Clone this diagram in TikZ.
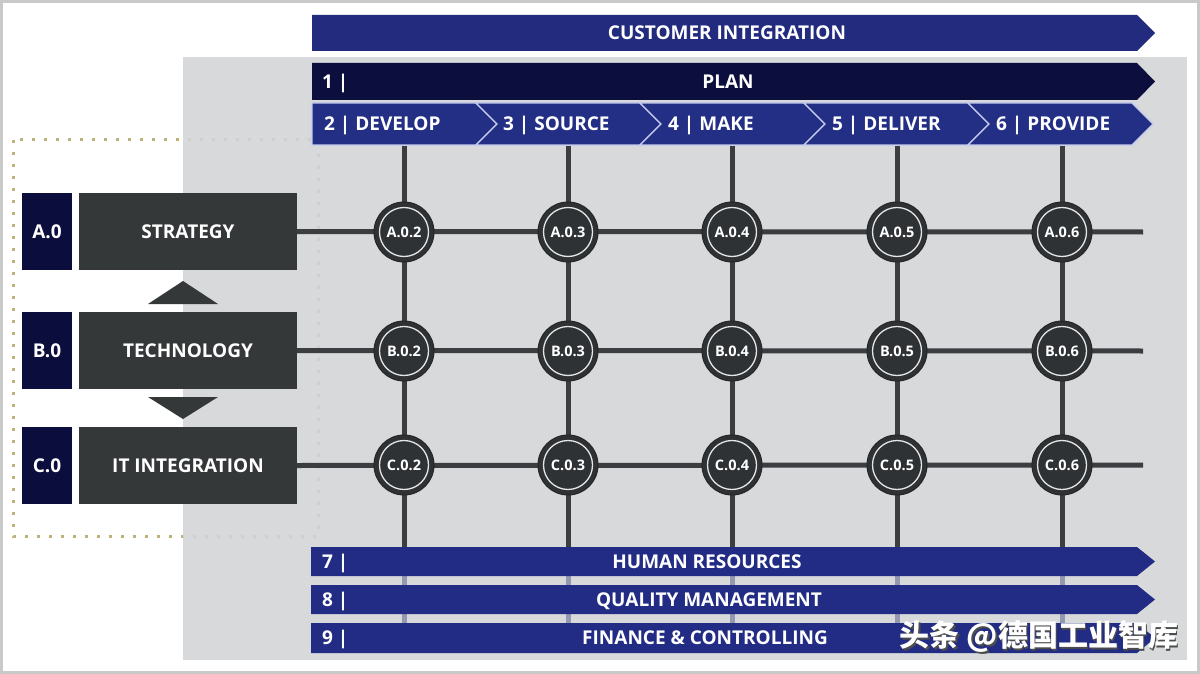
\documentclass[tikz,border=0pt]{standalone}
\usepackage{fontspec}
\setmainfont{Open Sans}
\newfontfamily\cjk{Noto Sans CJK SC}
\definecolor{custblue}{HTML}{222B7E}
\definecolor{plannavy}{HTML}{0C0E3E}
\definecolor{chevblue}{HTML}{232F84}
\definecolor{barblue}{HTML}{222C85}
\definecolor{leftnavy}{HTML}{0B0D3C}
\definecolor{boxgray}{HTML}{353839}
\definecolor{gridgray}{HTML}{3B3D40}
\definecolor{hubfill}{HTML}{2F3234}
\definecolor{panelgray}{HTML}{D2D4D7}
\definecolor{sepline}{HTML}{C4CBEE}
\definecolor{dotcol}{HTML}{BDB27A}
\definecolor{framegray}{HTML}{C9C9C9}
\begin{document}
\begin{tikzpicture}[x=1pt,y=-1pt,
  txt/.style={text=white, font=\bfseries\fontsize{19}{22}\selectfont, inner sep=0pt, text height=13.5pt, text depth=0pt},
  leftbox/.style={txt, fill=leftnavy, minimum width=50pt, minimum height=77pt},
  graybox/.style={txt, fill=boxgray, minimum width=218pt, minimum height=77pt},
  hub/.style={circle, fill=hubfill, draw=black!85, line width=1pt, minimum size=60pt, inner sep=0pt,
    text=white, font=\bfseries\fontsize{14.5}{16}\selectfont, text height=10.4pt, text depth=0pt,
    path picture={\draw[white!80!gray, line width=1.3pt] (path picture bounding box.center) circle (24.5pt);}},
  gridline/.style={draw=gridgray, line width=5pt},
  fadeline/.style={draw=gridgray!35!sepline, line width=5pt},
  chev/.style={fill=chevblue, draw=sepline, line width=1.2pt, line join=miter},
  tri/.style={fill=boxgray}
]
% background and frame
\fill[white] (0,0) rectangle (1200,674);
\draw[framegray, line width=3pt] (1.5,1.5) rectangle (1198.5,672.5);
% dotted frame
\draw[dotcol, line width=3pt, dash pattern=on 3pt off 9pt] (13,140) rectangle (318,536);
% gray panel
\fill[panelgray, opacity=0.88] (183,57) rectangle (1187,660);

% top bars
\fill[custblue] (312,15) -- (1137,15) -- (1155,33) -- (1137,51) -- (312,51) -- cycle;
\node[txt] (cust) at (727,33) {CUSTOMER INTEGRATION};
\fill[plannavy] (312,63) -- (1137,63) -- (1155,81.5) -- (1137,100) -- (312,100) -- cycle;
\node[txt, anchor=west] (n1) at (322,82) {1 |};
\node[txt] (plan) at (728,82) {PLAN};

% process chevrons
\draw[chev] (312,103) -- (476,103) -- (497,124) -- (476,145) -- (312,145) -- cycle;
\foreach \L in {476,640,804,968}{
  \draw[chev] (\L,103) -- (\L+164,103) -- (\L+185,124) -- (\L+164,145) -- (\L,145) -- (\L+21,124) -- cycle;
}
\node[txt, anchor=west] (p2) at (324,124) {2 | DEVELOP};
\node[txt, anchor=west] (p3) at (503,124) {3 | SOURCE};
\node[txt, anchor=west] (p4) at (668,124) {4 | MAKE};
\node[txt, anchor=west] (p5) at (832,124) {5 | DELIVER};
\node[txt, anchor=west] (p6) at (996,124) {6 | PROVIDE};

% vertical grid lines
\foreach \x [count=\i] in {404,568,732,897,1062}{
  \coordinate (vt\i) at (\x,146);
  \coordinate (vb\i) at (\x,548);
  \draw[gridline] (vt\i) -- (vb\i);
  \draw[fadeline] (\x,576) -- (\x,585);
  \draw[fadeline] (\x,614) -- (\x,623);
}

% left boxes
\node[leftbox] (a0) at (47,231.5) {A.0};
\node[graybox] (strat) at (188,231.5) {STRATEGY};
\node[leftbox] (b0) at (47,350.5) {B.0};
\node[graybox] (tech) at (188,350.5) {TECHNOLOGY};
\node[leftbox] (c0) at (47,465.5) {C.0};
\node[graybox] (itint) at (188,465.5) {IT INTEGRATION};
% triangles
\fill[tri] (148,304) -- (183,281) -- (218,304) -- cycle;
\fill[tri] (148,397) -- (183,419) -- (218,397) -- cycle;

% horizontal grid lines
\coordinate (endA) at (1143,232);
\coordinate (endB) at (1143,351);
\coordinate (endC) at (1143,465);
\draw[gridline] (strat.east) -- (endA);
\draw[gridline] (tech.east) -- (endB);
\draw[gridline] (itint.east) -- (endC);

% hubs
\foreach \x [count=\i from 2] in {404,568,732,897,1062}{
  \node[hub] (A\i) at (\x,232) {A.0.\i};
  \node[hub] (B\i) at (\x,351) {B.0.\i};
  \node[hub] (C\i) at (\x,465) {C.0.\i};
}

% bottom bars
\fill[barblue] (311,547) -- (1137,547) -- (1155,561.5) -- (1137,576) -- (311,576) -- cycle;
\fill[barblue] (311,585) -- (1137,585) -- (1155,599.5) -- (1137,614) -- (311,614) -- cycle;
\fill[barblue] (311,623) -- (1137,623) -- (1155,638) -- (1137,653) -- (311,653) -- cycle;
\node[txt, anchor=west] (n7) at (322,561.5) {7 |};
\node[txt, anchor=west] (n8) at (322,599.5) {8 |};
\node[txt, anchor=west] (n9) at (322,638) {9 |};
\node[txt] (hr) at (707,561.5) {HUMAN RESOURCES};
\node[txt] (qm) at (709,599.5) {QUALITY MANAGEMENT};
\node[txt] (fc) at (705,638) {FINANCE \& CONTROLLING};

% watermark
\node[text=black!70, font=\cjk\bfseries\fontsize{30}{32}\selectfont, inner sep=0pt] (wms) at (1040.8,638.8) {头条 @德国工业智库};
\node[text=white, font=\cjk\bfseries\fontsize{30}{32}\selectfont, inner sep=0pt] (wm) at (1039,637) {头条 @德国工业智库};
\end{tikzpicture}
\end{document}
